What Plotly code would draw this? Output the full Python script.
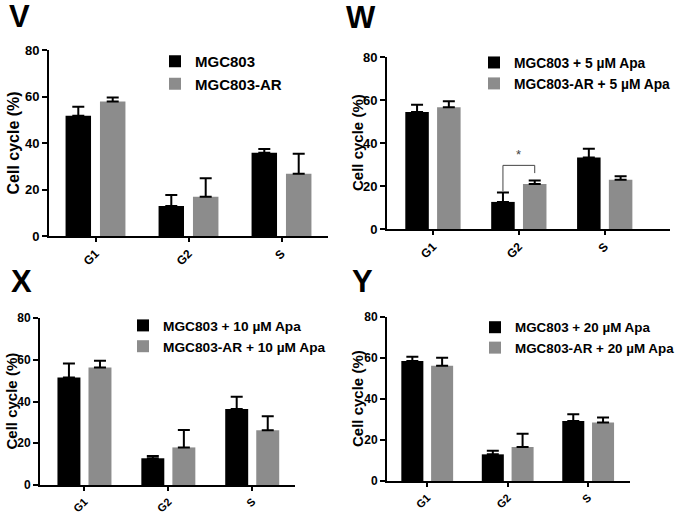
import plotly.graph_objects as go

categories = ["G1", "G2", "S"]
panel_letters = ["V", "W", "X", "Y"]

v_names = ["MGC803", "MGC803-AR"]
v_black = [51.7, 12.9, 35.8]
v_black_err = [3.9, 4.7, 1.6]
v_gray = [57.8, 16.9, 26.8]
v_gray_err = [1.8, 7.9, 8.6]

w_names = ["MGC803 + 5 µM Apa", "MGC803-AR + 5 µM Apa"]
w_black = [54.4, 12.6, 33.3]
w_black_err = [3.4, 4.4, 4.0]
w_gray = [56.6, 20.9, 22.9]
w_gray_err = [2.8, 1.6, 1.6]

x_names = ["MGC803 + 10 µM Apa", "MGC803-AR + 10 µM Apa"]
x_black = [51.5, 12.8, 36.4]
x_black_err = [6.7, 1.1, 5.9]
x_gray = [56.3, 18.0, 26.2]
x_gray_err = [3.2, 8.3, 6.7]

y_names = ["MGC803 + 20 µM Apa", "MGC803-AR + 20 µM Apa"]
y_black = [58.5, 13.0, 29.3]
y_black_err = [2.1, 1.7, 3.3]
y_gray = [56.2, 16.6, 28.5]
y_gray_err = [3.9, 6.4, 2.5]

y_title = "Cell cycle (%)"
sig_label = "*"

W, H = 677, 514
FONT = "Liberation Sans, Arial, sans-serif"
BLACK = "#000000"
GRAY = "#8c8c8c"
BARGAP = 0.26

def px(x):
    return x / W

def py(y):
    return 1 - y / H

# per panel: x-domain px, y-domain px (top, bottom), x range, legend pos, legend font,
# letter pos, y-title x centre, y-title font, y tick font, x tick font
panels = [
    dict(names=v_names, bk=v_black, bke=v_black_err, gr=v_gray, gre=v_gray_err,
         xd=(49, 328), yd=(50, 236), xr=[-0.5, 2.5], lg=(155, 45), lfs=15,
         letter=(7, 16), tx=12.5, tfs=16, tkf=13, xtf=12),
    dict(names=w_names, bk=w_black, bke=w_black_err, gr=w_gray, gre=w_gray_err,
         xd=(387, 670), yd=(57, 229), xr=[-0.535, 2.76], lg=(474, 47), lfs=13.8,
         letter=(344, 17.5), tx=357, tfs=15, tkf=13, xtf=12),
    dict(names=x_names, bk=x_black, bke=x_black_err, gr=x_gray, gre=x_gray_err,
         xd=(40, 295), yd=(318, 485), xr=[-0.53, 2.51], lg=(123, 310), lfs=13.7,
         letter=(9, 281), tx=11, tfs=15, tkf=12, xtf=11),
    dict(names=y_names, bk=y_black, bke=y_black_err, gr=y_gray, gre=y_gray_err,
         xd=(387, 630), yd=(317, 481), xr=[-0.5, 2.52], lg=(475, 312), lfs=13.4,
         letter=(350, 281), tx=357, tfs=15, tkf=12, xtf=11),
]

fig = go.Figure()
layout = dict(
    width=W, height=H,
    margin=dict(l=0, r=0, t=0, b=0, autoexpand=False),
    paper_bgcolor="white", plot_bgcolor="white",
    barmode="group", bargap=BARGAP, bargroupgap=0.26,
    font=dict(family=FONT, color="black", size=12),
    showlegend=True,
)
annotations = []
shapes = []

for i, p in enumerate(panels):
    n = i + 1
    xa = "x" if n == 1 else f"x{n}"
    ya = "y" if n == 1 else f"y{n}"
    leg = "legend" if n == 1 else f"legend{n}"
    for name, vals, errs, col in [(p["names"][0], p["bk"], p["bke"], BLACK),
                                  (p["names"][1], p["gr"], p["gre"], GRAY)]:
        fig.add_trace(go.Bar(
            x=categories, y=vals, name=name,
            marker=dict(color=col, line=dict(width=0)),
            error_y=dict(type="data", array=errs, arrayminus=[0] * len(errs), symmetric=False,
                         color="black", thickness=2, width=6),
            xaxis=xa, yaxis=ya, legend=leg,
        ))
    xkey = "xaxis" if n == 1 else f"xaxis{n}"
    ykey = "yaxis" if n == 1 else f"yaxis{n}"
    xd, yd = p["xd"], p["yd"]
    layout[xkey] = dict(
        domain=[px(xd[0]), px(xd[1])], anchor=ya, type="category", range=p["xr"],
        showline=True, linecolor="black", linewidth=2, ticks="outside", ticklen=4,
        tickwidth=2, tickcolor="black", tickangle=-45, showgrid=False, zeroline=False,
        automargin=False,
        tickfont=dict(size=p["xtf"], weight="bold", family=FONT),
    )
    layout[ykey] = dict(
        domain=[py(yd[1]), py(yd[0])], anchor=xa, range=[0, 80], dtick=20,
        showline=True, linecolor="black", linewidth=2, ticks="outside", ticklen=5,
        tickwidth=2, tickcolor="black", showgrid=False, zeroline=False,
        automargin=False,
        tickfont=dict(size=p["tkf"], weight="bold", family=FONT),
    )
    layout[leg] = dict(
        x=px(p["lg"][0]), y=py(p["lg"][1]), xanchor="left", yanchor="top",
        font=dict(size=p["lfs"], weight="bold", family=FONT),
        bgcolor="rgba(0,0,0,0)", tracegroupgap=0, traceorder="normal",
    )
    annotations.append(dict(
        text=panel_letters[i], x=px(p["letter"][0]), y=py(p["letter"][1]),
        xref="paper", yref="paper", xanchor="left", yanchor="middle",
        showarrow=False, font=dict(size=31, weight="bold", family=FONT),
    ))
    annotations.append(dict(
        text=y_title, x=px(p["tx"]), y=py((yd[0] + yd[1]) / 2),
        xref="paper", yref="paper", xanchor="center", yanchor="middle", textangle=-90,
        showarrow=False, font=dict(size=p["tfs"], weight="bold", family=FONT),
    ))

# significance bracket in panel W (G2)
off = (1 - BARGAP) / 4
g2 = categories.index("G2")
left_x = g2 - off
right_x = g2 + off
top_y = 29.6
lc = "#444444"
shapes += [
    dict(type="line", xref="x2", yref="y2", x0=left_x, x1=right_x, y0=top_y, y1=top_y, line=dict(color=lc, width=1)),
    dict(type="line", xref="x2", yref="y2", x0=left_x, x1=left_x, y0=top_y, y1=w_black[g2] + w_black_err[g2] + 0.6, line=dict(color=lc, width=1)),
    dict(type="line", xref="x2", yref="y2", x0=right_x, x1=right_x, y0=top_y, y1=26, line=dict(color=lc, width=1)),
]
annotations.append(dict(text=sig_label, x=g2, y=top_y + 0.5, xref="x2", yref="y2",
                        xanchor="center", yanchor="bottom", showarrow=False,
                        font=dict(size=13, color="#444444", family=FONT)))

layout["annotations"] = annotations
layout["shapes"] = shapes
fig.update_layout(**layout)
fig.write_html("out.html", config={"displayModeBar": False},
               post_script="document.body.style.margin='0';")
